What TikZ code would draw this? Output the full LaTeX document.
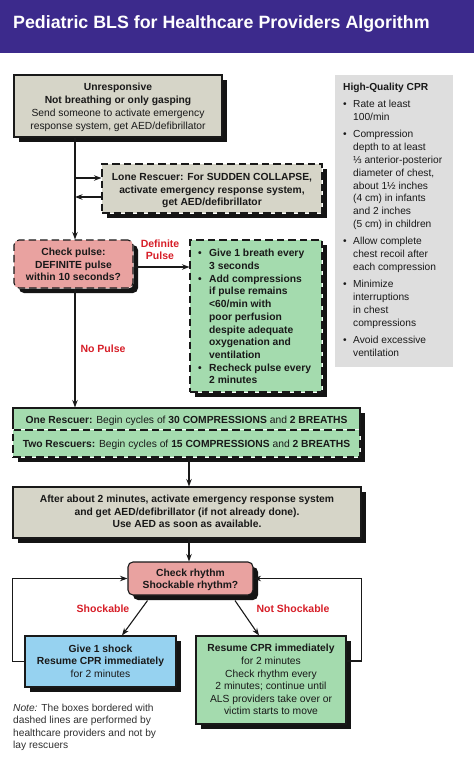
\documentclass[tikz,border=0pt]{standalone}
\usepackage{fontspec}
\setmainfont{Liberation Sans}
\usetikzlibrary{arrows.meta,shadows,calc}
\definecolor{titlec}{RGB}{60,42,140}
\definecolor{ink}{RGB}{25,25,25}
\definecolor{shad}{RGB}{20,20,20}
\definecolor{graybox}{RGB}{214,213,200}
\definecolor{pinkc}{RGB}{233,162,160}
\definecolor{greenc}{RGB}{164,219,174}
\definecolor{bluec}{RGB}{150,210,240}
\definecolor{panelc}{RGB}{222,222,222}
\definecolor{redc}{RGB}{215,30,40}
\newcommand{\mybul}{\makebox[11pt][l]{\textbullet}}
\newcommand{\myind}{\hspace*{11pt}}
\newcommand{\mybulb}{\makebox[10pt][l]{\textbullet}}
\newcommand{\myindb}{\hspace*{10pt}}
\begin{document}
\begin{tikzpicture}[x=1pt,y=-1pt,
  box/.style={draw=ink, line width=1.1pt, inner sep=0,
    drop shadow={shadow xshift=5pt, shadow yshift=-5pt, opacity=1, fill=shad}},
  dbox/.style={box, dash pattern=on 7.5pt off 4pt, preaction={draw=white, solid}},
  txt/.style={inner sep=0, align=center, text=ink, anchor=north},
  arr/.style={draw=ink, line width=1.1pt, -{Stealth[length=7.5pt,width=5.5pt]}},
  lbl/.style={inner sep=0, align=center, text=redc, anchor=north,
    font=\bfseries\fontsize{10.5}{12.5}\selectfont},
]
\useasboundingbox (0,0) rectangle (474,759);
\fill[white] (0,0) rectangle (474,759);
% title bar
\node[fill=titlec, minimum width=474pt, minimum height=53pt, inner sep=0, anchor=north west] (bar) at (0,0) {};
\node[inner sep=0, anchor=north west, text=white, font=\bfseries\fontsize{17.8}{20}\selectfont] (title) at (13,15) {Pediatric BLS for Healthcare Providers Algorithm};

% boxes
\node[box, fill=graybox, minimum width=208pt, minimum height=62pt] (b1) at (118,106) {};
\node[dbox, fill=graybox, minimum width=220pt, minimum height=49pt] (lone) at (212,188.5) {};
\node[fill=panelc, inner sep=0, minimum width=118pt, minimum height=292pt] (cpr) at (394,221) {};
\node[dbox, fill=pinkc, rounded corners=5pt, minimum width=119pt, minimum height=48pt] (cp) at (73.5,264) {};
\node[dbox, fill=greenc, minimum width=132pt, minimum height=152pt] (gr) at (256,316) {};
\node[box, fill=greenc, minimum width=347pt, minimum height=22pt] (comp1) at (186.5,419) {};
\node[dbox, fill=greenc, minimum width=347pt, minimum height=27pt] (comp2) at (186.5,443.5) {};
\node[box, fill=graybox, minimum width=348pt, minimum height=51pt] (aed) at (187,512.5) {};
\node[box, fill=pinkc, rounded corners=5pt, minimum width=125pt, minimum height=33pt] (rh) at (190.5,578.5) {};
\node[box, fill=bluec, minimum width=151pt, minimum height=51pt] (sh) at (100.5,661.5) {};
\node[box, fill=greenc, minimum width=150pt, minimum height=88pt] (res) at (271,680) {};

% texts
\node[txt, font=\fontsize{10.3}{13}\selectfont] (b1t) at (118,82.9)
  {\textbf{Unresponsive}\\\textbf{Not breathing or only gasping}\\Send someone to activate emergency\\response system, get AED/defibrillator};
\node[txt, font=\bfseries\fontsize{10.3}{12.2}\selectfont] (lonet) at (212,173.5)
  {Lone Rescuer: For SUDDEN COLLAPSE,\\activate emergency response system,\\get AED/defibrillator};
\node[txt, anchor=north west, align=left, font=\fontsize{10.2}{12.8}\selectfont] (cprt) at (343,83.2)
  {\textbf{High-Quality CPR}\\[4.3pt]
   \mybulb Rate at least\\\myindb 100/min\\[4.5pt]
   \mybulb Compression\\\myindb depth to at least\\\myindb ⅓ anterior-posterior\\\myindb diameter of chest,\\\myindb about 1½ inches\\\myindb (4 cm) in infants\\\myindb and 2 inches\\\myindb (5 cm) in children\\[4.5pt]
   \mybulb Allow complete\\\myindb chest recoil after\\\myindb each compression\\[4.5pt]
   \mybulb Minimize\\\myindb interruptions\\\myindb in chest\\\myindb compressions\\[4.5pt]
   \mybulb Avoid excessive\\\myindb ventilation};
\node[txt, font=\bfseries\fontsize{10.3}{12.5}\selectfont] (cpt) at (73.5,247.9)
  {Check pulse:\\DEFINITE pulse\\within 10 seconds?};
\node[txt, anchor=north west, align=left, font=\bfseries\fontsize{10.3}{12.7}\selectfont] (grt) at (198,249.2)
  {\mybul Give 1 breath every\\\myind 3 seconds\\\mybul Add compressions\\\myind if pulse remains\\\myind <60/min with\\\myind poor perfusion\\\myind despite adequate\\\myind oxygenation and\\\myind ventilation\\\mybul Recheck pulse every\\\myind 2 minutes};
\node[txt, font=\fontsize{10.3}{12.5}\selectfont] (c1t) at (186.5,415.5)
  {\textbf{One Rescuer:} Begin cycles of \textbf{30 COMPRESSIONS} and \textbf{2 BREATHS}};
\node[txt, font=\fontsize{10.3}{12.5}\selectfont] (c2t) at (186.5,439.5)
  {\textbf{Two Rescuers:} Begin cycles of \textbf{15 COMPRESSIONS} and \textbf{2 BREATHS}};
\node[txt, font=\bfseries\fontsize{10.3}{12.5}\selectfont] (aedt) at (187,495.2)
  {After about 2 minutes, activate emergency response system\\and get AED/defibrillator (if not already done).\\Use AED as soon as available.};
\node[txt, font=\bfseries\fontsize{10.3}{12.3}\selectfont] (rht) at (190.5,568.9)
  {Check rhythm\\Shockable rhythm?};
\node[txt, font=\fontsize{10.3}{12.5}\selectfont] (sht) at (100.5,644.5)
  {\textbf{Give 1 shock}\\\textbf{Resume CPR immediately}\\for 2 minutes};
\node[txt, font=\fontsize{10.3}{12.6}\selectfont] (rest) at (271,644.2)
  {\textbf{Resume CPR immediately}\\for 2 minutes\\Check rhythm every\\2 minutes; continue until\\ALS providers take over or\\victim starts to move};
\node[txt, anchor=north west, align=left, text=ink!90, font=\fontsize{10.2}{12.4}\selectfont] (note) at (13,703.9)
  {\textit{Note:} The boxes bordered with\\dashed lines are performed by\\healthcare providers and not by\\lay rescuers};

% labels
\node[lbl] (dpl) at (160,239.2) {Definite\\Pulse};
\node[lbl] (npl) at (103,344.2) {No Pulse};
\node[lbl] (shl) at (103,604.2) {Shockable};
\node[lbl] (nsl) at (293,604.2) {Not Shockable};

% connectors
\coordinate (tx) at (75,0);
\coordinate (cx) at (189,0);
\coordinate (la) at (75,178);
\coordinate (lb) at (75,197);
\coordinate (dp) at (133,267);
\coordinate (rl) at (346,661);
\draw[arr] (b1.south -| tx) -- (cp.north -| tx);
\draw[arr] (la) -- (la -| lone.west);
\draw[arr] (lb -| lone.west) -- (lb);
\draw[arr] (dp -| cp.east) -- (dp -| gr.west);
\draw[arr] (cp.south -| tx) -- (comp1.north -| tx);
\draw[arr] (comp2.south -| cx) -- (aed.north -| cx);
\draw[arr] (aed.south -| cx) -- (rh.north -| cx);
\draw[arr] ($(rh.south)+(-43,5)$) -- ($(sh.north)+(21.5,0)$);
\draw[arr] ($(rh.south)+(44.5,5)$) -- ($(res.north)+(-12,0)$);
\draw[arr] (sh.west) -- ++(-12,0) |- (rh.west);
\draw[arr] (rl -| res.east) -- ++(15,0) |- (rh.east);
\end{tikzpicture}
\end{document}
